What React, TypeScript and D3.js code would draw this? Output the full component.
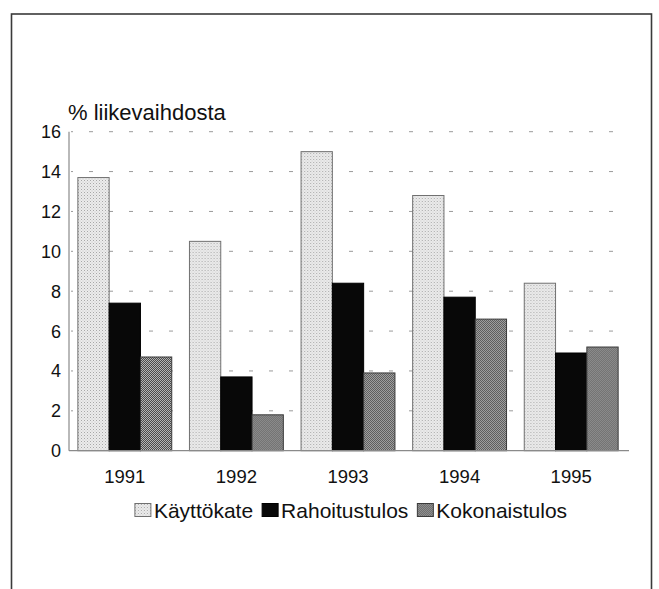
import React from 'react';
import * as d3 from 'd3';

// chart data
const years = ['1991', '1992', '1993', '1994', '1995'];
const seriesNames = ['Käyttökate', 'Rahoitustulos', 'Kokonaistulos'];
const kayttokate = [13.7, 10.5, 15.0, 12.8, 8.4];
const rahoitustulos = [7.4, 3.7, 8.4, 7.7, 4.9];
const kokonaistulos = [4.7, 1.8, 3.9, 6.6, 5.2];
const yTicks = [0, 2, 4, 6, 8, 10, 12, 14, 16];
const yTitle = '% liikevaihdosta';

const FONT = '"Liberation Sans", Arial, Helvetica, sans-serif';
const W = 659;
const H = 589;

const fills = ['url(#pLight)', '#080808', 'url(#pCheck)'];
const strokes = ['#707070', '#000', '#3a3a3a'];

// measure text width so the legend can be laid out
const measure = (txt: string, size: number) => {
  const ctx = document.createElement('canvas').getContext('2d');
  if (!ctx) return txt.length * size * 0.5;
  ctx.font = `${size}px "Liberation Sans", Arial, sans-serif`;
  return ctx.measureText(txt).width;
};

const App: React.FC = () => {
  const values = [kayttokate, rahoitustulos, kokonaistulos];

  const left = 69;
  const right = 627;
  const top = 131.7;
  const bottom = 450.7;

  const x0 = d3.scaleBand<string>().domain(years).range([left, right]).padding(0);
  const x1 = d3
    .scaleBand<string>()
    .domain(seriesNames)
    .range([0, x0.bandwidth()])
    .paddingInner(0)
    .paddingOuter(0.283);
  const y = d3.scaleLinear().domain([0, 16]).range([bottom, top]);

  // legend layout
  const legendSize = 21;
  const sw = 16;
  const swGap = 3;
  const itemGap = 9;
  const widths = seriesNames.map(s => measure(s, legendSize));
  const itemW = widths.map(w => sw + swGap + w);
  const totalW = d3.sum(itemW) + itemGap * (seriesNames.length - 1);
  let cursor = (left + right) / 2 + 3 - totalW / 2;
  const legendX = itemW.map(w => {
    const xPos = cursor;
    cursor += w + itemGap;
    return xPos;
  });

  return (
    <svg
      width={W}
      height={H}
      style={{ position: 'absolute', left: 0, top: 0, background: '#fff' }}
      fontFamily={FONT}
    >
      <defs>
        <pattern id="pLight" width={3} height={3} patternUnits="userSpaceOnUse">
          <rect width={3} height={3} fill="#ececec" />
          <rect width={1} height={1} fill="#a8a8a8" />
          <rect x={1.5} y={1.5} width={1} height={1} fill="#c4c4c4" />
        </pattern>
        <pattern id="pCheck" width={2} height={2} patternUnits="userSpaceOnUse">
          <rect width={2} height={2} fill="#b4b4b4" />
          <rect width={1} height={1} fill="#4a4a4a" />
          <rect x={1} y={1} width={1} height={1} fill="#4a4a4a" />
        </pattern>
      </defs>

      {/* frame */}
      <rect x={11.5} y={14} width={640} height={600} fill="none" stroke="#3a3a3a" strokeWidth={1.6} />

      {/* gridlines */}
      {yTicks.filter(t => t > 0).map(t => (
        <line
          key={t}
          x1={left + 2}
          x2={right}
          y1={y(t)}
          y2={y(t)}
          stroke="#9a9a9a"
          strokeWidth={1}
          strokeDasharray="4 16"
          strokeDashoffset={-18}
        />
      ))}

      {/* bars */}
      {years.map((yr, i) => (
        <g key={yr} transform={`translate(${x0(yr)},0)`}>
          {seriesNames.map((s, j) => (
            <rect
              key={s}
              x={x1(s)}
              y={y(values[j][i])}
              width={x1.bandwidth()}
              height={y(0) - y(values[j][i])}
              fill={fills[j]}
              stroke={strokes[j]}
              strokeWidth={1}
            />
          ))}
        </g>
      ))}

      {/* axes */}
      <line x1={left} x2={left} y1={top} y2={bottom} stroke="#8a8a8a" strokeWidth={1.2} />
      <line x1={left} x2={right + 2} y1={bottom} y2={bottom} stroke="#8a8a8a" strokeWidth={1.2} />

      {/* y tick labels */}
      {yTicks.map(t => (
        <text
          key={t}
          x={left - 8}
          y={y(t) + 6.5}
          textAnchor="end"
          fontSize={18}
          fill="#111"
        >
          {t}
        </text>
      ))}

      {/* y title */}
      <text x={left - 1} y={119.5} fontSize={22} fill="#111">
        {yTitle}
      </text>

      {/* x labels */}
      {years.map(yr => (
        <text
          key={yr}
          x={(x0(yr) as number) + x0.bandwidth() / 2}
          y={482.7}
          textAnchor="middle"
          fontSize={18.5}
          fill="#111"
        >
          {yr}
        </text>
      ))}

      {/* legend */}
      {seriesNames.map((s, j) => (
        <g key={s} transform={`translate(${legendX[j]},0)`}>
          <rect x={0} y={503.5} width={sw} height={13} fill={fills[j]} stroke={strokes[j]} strokeWidth={1} />
          <text x={sw + swGap} y={518} fontSize={legendSize} fill="#111">
            {s}
          </text>
        </g>
      ))}
    </svg>
  );
};

export default App;
